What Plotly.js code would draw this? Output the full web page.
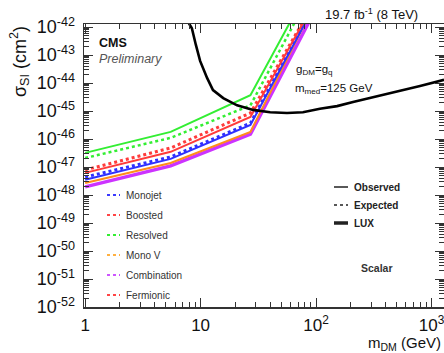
<!DOCTYPE html>
<html>
<head>
<meta charset="utf-8">
<script src="https://cdn.plot.ly/plotly-3.0.1.min.js"></script>
<style>html,body{margin:0;padding:0;background:#fff;overflow:hidden;}#chart{width:444px;height:353px;}</style>
</head>
<body>
<div id="chart"></div>
<script>
// ---- data ----
const massDM = [1, 5.5, 27, 100];
const resolvedObs = [3.2e-47, 1.8e-46, 3.7e-45, 7.6e-41];
const resolvedExp = [2.1e-47, 1.1e-46, 1.6e-45, 3.9e-41];
const boostedExp = [7.9e-48, 4.8e-47, 8.5e-46, 1.0e-41];
const boostedObs = [6.2e-48, 3.5e-47, 6.2e-46, 9.5e-42];
const monojetExp = [4.4e-48, 2.3e-47, 3.7e-46, 8.5e-42];
const monojetObs = [3.5e-48, 1.95e-47, 3.2e-46, 7.4e-42];
const monoVObs = [2.7e-48, 1.4e-47, 1.8e-46, 8.3e-42];
const combinationObs = [1.95e-48, 1.1e-47, 1.5e-46, 4.7e-42];

const luxMass = [7.6, 8.4, 9.1, 9.9, 11.4, 12.8, 15.7, 20.7, 28.5, 40, 56, 77, 108, 152, 209, 294, 412, 566, 795, 1283];
const luxSigma = [1.8e-42, 9.1e-43, 2.3e-43, 6.2e-44, 1.5e-44, 5.6e-45, 2.9e-45, 1.6e-45, 1.1e-45, 9.1e-46, 8.5e-46, 9.1e-46, 1.2e-45, 1.5e-45, 2.1e-45, 2.9e-45, 4.1e-45, 5.6e-45, 7.8e-45, 1.3e-44];

const xTickVals = [1, 10, 100, 1000];
const xTickText = ['1', '10', '10<sup>2</sup>', '10<sup>3</sup>'];
const yExponents = [-52, -51, -50, -49, -48, -47, -46, -45, -44, -43, -42];

const leftLegendNames = ['Monojet', 'Boosted', 'Resolved', 'Mono V', 'Combination', 'Fermionic'];
const leftLegendColors = ['#3a3aff', '#ff4545', '#33ee33', '#ffb040', '#cc55ff', '#ff4545'];
const rightLegendNames = ['Observed', 'Expected', 'LUX'];

// ---- traces ----
const C = {green:'#33ee33', red:'#ff3b3b', blue:'#3030ff', orange:'#ff8c1a', magenta:'#cc33ff'};
function tr(y, color, dash, width){
  return {x: massDM, y: y, type:'scatter', mode:'lines', line:{color:color, dash:dash, width:width}, hoverinfo:'skip'};
}
const traces = [
  tr(combinationObs, C.magenta, 'solid', 3.5),
  tr(monoVObs, C.orange, 'solid', 2),
  tr(monojetObs, C.blue, 'solid', 2),
  tr(monojetExp, C.blue, 'dot', 3),
  tr(boostedObs, C.red, 'solid', 2),
  tr(boostedExp, C.red, 'dot', 3),
  tr(resolvedExp, C.green, 'dot', 2.5),
  tr(resolvedObs, C.green, 'solid', 2),
  {x: luxMass, y: luxSigma, type:'scatter', mode:'lines', line:{color:'#000', width:2.6}, hoverinfo:'skip'}
];

// ---- legends drawn as shapes + annotations ----
const shapes = [];
const annotations = [];
const font = 'Liberation Sans, Arial, sans-serif';
leftLegendNames.forEach((n, i) => {
  const y = 195 + i * 20;
  shapes.push({type:'line', xref:'paper', yref:'paper', x0:(107-84)/360, x1:(120-84)/360, y0:(307-y)/283, y1:(307-y)/283, line:{color:leftLegendColors[i], width:2, dash:'dot'}});
  annotations.push({xref:'paper', yref:'paper', x:(124-84)/360, y:(307-y)/283, text:n, showarrow:false, xanchor:'left', yanchor:'middle', font:{family:font, size:10, color:'#333'}});
});
const rDash = ['solid', 'dot', 'solid'];
const rWidth = [1.5, 1.5, 3.5];
rightLegendNames.forEach((n, i) => {
  const y = 187 + i * 18;
  shapes.push({type:'line', xref:'paper', yref:'paper', x0:(334-84)/360, x1:(348-84)/360, y0:(307-y)/283, y1:(307-y)/283, line:{color:'#222', width:rWidth[i], dash:rDash[i]}});
  annotations.push({xref:'paper', yref:'paper', x:(352-84)/360, y:(307-y)/283, text:'<b>'+n+'</b>', showarrow:false, xanchor:'left', yanchor:'middle', font:{family:font, size:10, color:'#222'}});
});
function pa(x, y, text, size, extra){
  return Object.assign({xref:'paper', yref:'paper', x:(x-84)/360, y:(307-y)/283, text:text, showarrow:false, xanchor:'left', yanchor:'middle', font:{family:font, size:size, color:'#111'}}, extra||{});
}
annotations.push(pa(97, 43, '<b>CMS</b>', 12.5));
annotations.push(pa(97, 59, '<i>Preliminary</i>', 12.5, {font:{family:font, size:12.5, color:'#555'}}));
annotations.push(pa(294, 70, 'g<sub>DM</sub>=g<sub>q</sub>', 11.5));
annotations.push(pa(293, 89, 'm<sub>med</sub>=125 GeV', 11.5));
annotations.push(pa(359, 268, '<b>Scalar</b>', 10.5, {font:{family:font, size:10.5, color:'#333'}}));
annotations.push(pa(323, 14, '19.7 fb<sup>-1</sup> (8 TeV)', 13, {yanchor:'middle'}));
annotations.push(pa(443, 343, 'm<sub>DM</sub> (GeV)', 15, {xanchor:'right'}));
annotations.push({xref:'paper', yref:'paper', x:(20-84)/360, y:(307-62)/283, text:'σ<sub>SI</sub> (cm<sup>2</sup>)', textangle:-90, showarrow:false, xanchor:'center', yanchor:'middle', font:{family:font, size:18, color:'#111'}});

const layout = {
  width:444, height:353,
  margin:{l:84, r:0, t:24, b:46, pad:0},
  paper_bgcolor:'#fff', plot_bgcolor:'#fff',
  showlegend:false,
  font:{family:font, color:'#111'},
  xaxis:{type:'log', range:[-0.01, 3.108], tickmode:'array', tickvals:xTickVals, ticktext:xTickText,
    ticks:'inside', ticklen:9, tickcolor:'#333', showline:true, linecolor:'#333', linewidth:1.5, mirror:'ticks',
    showgrid:false, zeroline:false, tickfont:{family:font, size:17, color:'#111'}, ticklabelstandoff:2,
    ticklabeloverflow:'allow',
    minor:{ticks:'inside', ticklen:5, tickcolor:'#333', dtick:'D1', showgrid:false}},
  yaxis:{type:'log', range:[-52, -41.89], tickmode:'array', tickvals:yExponents.map(e => Math.pow(10, e)),
    ticktext:yExponents.map(e => '10<sup>' + e + '</sup>'),
    ticks:'inside', ticklen:9, tickcolor:'#333', showline:true, linecolor:'#333', linewidth:1.5, mirror:'ticks',
    showgrid:false, zeroline:false, tickfont:{family:font, size:18, color:'#111'}, ticklabelstandoff:4,
    ticklabeloverflow:'allow',
    minor:{ticks:'inside', ticklen:5, tickcolor:'#333', dtick:'D1', showgrid:false}},
  shapes:shapes,
  annotations:annotations
};
Plotly.newPlot('chart', traces, layout, {staticPlot:true, displayModeBar:false});
</script>
</body>
</html>
